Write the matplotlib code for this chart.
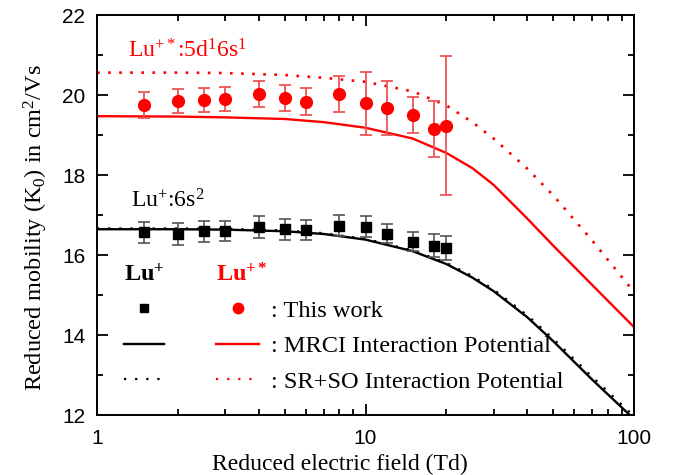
import matplotlib
matplotlib.use("Agg")
import matplotlib.pyplot as plt
from matplotlib.lines import Line2D
from matplotlib.ticker import LogLocator, NullFormatter, MultipleLocator, FixedLocator

# ---- data ----
field_exp = [1.5, 2, 2.5, 3, 4, 5, 6, 8, 10, 12, 15, 18, 20]
k0_lu = [16.57, 16.53, 16.60, 16.61, 16.70, 16.65, 16.62, 16.74, 16.71, 16.54, 16.34, 16.24, 16.19]
k0_lu_err = [0.27, 0.27, 0.26, 0.25, 0.27, 0.26, 0.25, 0.27, 0.26, 0.24, 0.24, 0.28, 0.30]
k0_lus = [19.76, 19.86, 19.89, 19.92, 20.04, 19.93, 19.84, 20.03, 19.80, 19.68, 19.51, 19.16, 19.24]
k0_lus_err = [0.33, 0.31, 0.30, 0.30, 0.33, 0.32, 0.34, 0.45, 0.78, 0.67, 0.46, 0.71, 1.74]

field_th = [1, 2, 3, 5, 7, 10, 15, 20, 25, 30, 40, 50, 70, 100]
mrci_lu = [16.65, 16.65, 16.64, 16.60, 16.53, 16.39, 16.10, 15.78, 15.44, 15.10, 14.45, 13.85, 12.88, 11.90]
srso_lu = [16.67, 16.67, 16.66, 16.62, 16.55, 16.41, 16.12, 15.81, 15.48, 15.14, 14.50, 13.91, 12.95, 11.97]
mrci_lus = [19.48, 19.47, 19.45, 19.41, 19.33, 19.19, 18.92, 18.56, 18.18, 17.76, 16.92, 16.24, 15.25, 14.20]
srso_lus = [20.57, 20.57, 20.56, 20.51, 20.44, 20.34, 20.10, 19.75, 19.33, 18.92, 18.17, 17.50, 16.36, 15.08]

x_ticks = [1, 10, 100]
x_ticklabels = ["1", "10", "100"]
y_ticks = [12, 14, 16, 18, 20, 22]

RED = "#ff0000"
serif = ["Liberation Serif", "DejaVu Serif"]
sans = ["Liberation Sans", "DejaVu Sans"]

plt.rcParams["mathtext.fontset"] = "custom"
plt.rcParams["mathtext.rm"] = "Liberation Serif"
plt.rcParams["mathtext.it"] = "Liberation Serif:italic"
plt.rcParams["mathtext.bf"] = "Liberation Serif:bold"

fig = plt.figure(figsize=(6.73, 4.75), dpi=100)
ax = fig.add_axes([97/673, 60/475, 537/673, 399.5/475])

DOT_K = (0, (1, 4))
DOT_R = (0, (1, 3.2))

# theory curves
ax.plot(field_th, mrci_lu, color="black", lw=1.7, zorder=2)
ax.plot(field_th, srso_lu, color="black", lw=1.6, ls=DOT_K, zorder=2)
ax.plot(field_th, mrci_lus, color=RED, lw=1.7, zorder=2)
ax.plot(field_th, srso_lus, color=RED, lw=1.9, ls=DOT_R, zorder=2)

# experimental points
ax.errorbar(field_exp, k0_lu, yerr=k0_lu_err, fmt="s", color="black", ms=7,
            ecolor="#555555", elinewidth=1.2, capsize=4.5, capthick=1.2, zorder=3)
ax.errorbar(field_exp, k0_lus, yerr=k0_lus_err, fmt="o", color=RED, ms=8.5,
            ecolor="#ee5555", elinewidth=1.3, capsize=4.5, capthick=1.3, zorder=3)

ax.set_xscale("log")
ax.set_xlim(1, 100)
ax.set_ylim(12, 22)
ax.xaxis.set_major_locator(FixedLocator(x_ticks))
ax.set_xticklabels(x_ticklabels)
ax.xaxis.set_minor_locator(LogLocator(base=10, subs=range(2, 10)))
ax.xaxis.set_minor_formatter(NullFormatter())
ax.yaxis.set_major_locator(FixedLocator(y_ticks))
ax.yaxis.set_minor_locator(MultipleLocator(1))

ax.tick_params(which="both", direction="in", top=True, right=True, width=1.3)
ax.tick_params(which="major", length=8, labelsize=15)
ax.tick_params(axis="x", which="major", pad=10)
ax.tick_params(axis="y", which="major", pad=8.5)
ax.tick_params(which="minor", length=4)
for lab in ax.get_xticklabels() + ax.get_yticklabels():
    lab.set_family(sans)
for sp in ax.spines.values():
    sp.set_linewidth(1.4)

ax.set_xlabel("Reduced electric field (Td)", family=serif, fontsize=17)
ax.xaxis.set_label_coords(0.452, -0.097)
ax.set_ylabel("Reduced mobility (K$_0$) in cm$^2$/Vs", family=serif, fontsize=17.5)
ax.yaxis.set_label_coords(-0.088, 0.47)

ax.text(0.058, 0.894, r"Lu$^{+*}$:5d$^{1}$6s$^{1}$", transform=ax.transAxes,
        color=RED, family=serif, fontsize=17, va="baseline")
ax.text(0.063, 0.519, r"Lu$^{+}$:6s$^{2}$", transform=ax.transAxes,
        color="black", family=serif, fontsize=17, va="baseline")

# legends
h_black = [Line2D([], [], ls="none", marker="s", color="black", ms=5.8),
           Line2D([], [], color="black", lw=1.7),
           Line2D([], [], color="black", lw=1.6, ls=DOT_K)]
h_red = [Line2D([], [], ls="none", marker="o", color=RED, ms=7.5),
         Line2D([], [], color=RED, lw=1.7),
         Line2D([], [], color=RED, lw=1.6, ls=DOT_K)]
labels_red = [": This work", ": MRCI Interaction Potential", ": SR+SO Interaction Potential"]

leg1 = ax.legend(h_black, ["", "", ""], loc="upper left", bbox_to_anchor=(0.050, 0.3825),
                 frameon=False, handlelength=1.65, labelspacing=0.55, handletextpad=0.0,
                 title=r"$\mathbf{Lu}^{\mathbf{+}}$", prop={"family": serif, "size": 17.6},
                 borderaxespad=0, borderpad=0)
leg1.get_title().set_fontsize(17.5)
ax.add_artist(leg1)
leg2 = ax.legend(h_red, labels_red, loc="upper left", bbox_to_anchor=(0.222, 0.3825),
                 frameon=False, handlelength=1.75, labelspacing=0.55, handletextpad=0.5,
                 title=r"$\mathbf{Lu}^{\mathbf{+*}}$", prop={"family": serif, "size": 17.6},
                 borderaxespad=0, borderpad=0, alignment="left")
leg2.get_title().set_color(RED)
leg2.get_title().set_fontsize(17.5)

fig.savefig("out.png", dpi=100)
